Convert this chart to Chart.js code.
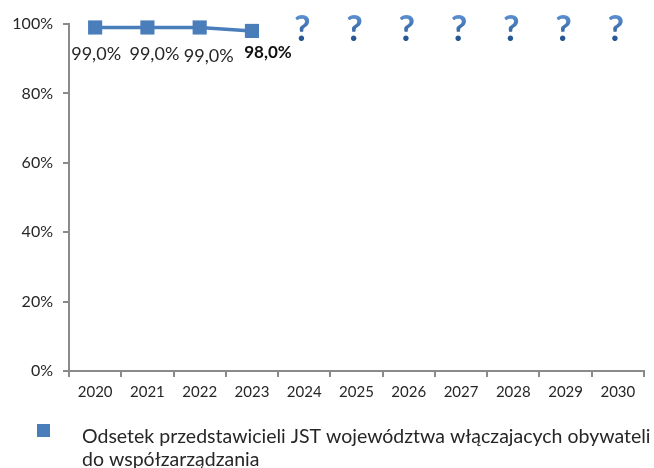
<!DOCTYPE html>
<html>
<head>
<meta charset="utf-8">
<script src="https://cdn.jsdelivr.net/npm/chart.js@4.4.1/dist/chart.umd.min.js"></script>
<style>
  html, body { margin: 0; padding: 0; background: #fff; }
  #wrap { width: 654px; height: 468px; position: relative; }
</style>
</head>
<body>
<div id="wrap"><canvas id="chart"></canvas></div>
<script>
// Share of regional self-government representatives involving citizens in co-governance
const years = ['2020', '2021', '2022', '2023', '2024', '2025', '2026', '2027', '2028', '2029', '2030'];
const shareValues = [99, 99, 99, 98, null, null, null, null, null, null, null];
const yTicks = [0, 20, 40, 60, 80, 100];
const seriesName = 'Odsetek przedstawicieli JST województwa włączajacych obywateli do współzarządzania';

const BLUE = '#4a7ebb';
const AXIS = '#8a8a8a';
const TEXT = '#262626';

Chart.defaults.font.family = 'Lato, "Open Sans", sans-serif';
Chart.defaults.color = TEXT;

const fmt = v => v.toFixed(1).replace('.', ',') + '%';

// value labels under the points, "?" for years without data, custom legend
const extras = {
  id: 'extras',
  afterDatasetsDraw(chart) {
    const ctx = chart.ctx;
    const meta = chart.getDatasetMeta(0);
    const vals = chart.data.datasets[0].data;
    const lastIdx = vals.reduce((a, v, i) => (v != null ? i : a), -1);
    const labelOffsets = [[1, 27], [7, 27], [9, 29], [16, 22]];
    ctx.save();
    ctx.textAlign = 'center';
    ctx.textBaseline = 'middle';
    vals.forEach((v, i) => {
      const pt = meta.data[i];
      if (v == null) {
        const x = chart.scales.x.getPixelForValue(i) - 2;
        const y = chart.chartArea.top + 5;
        const g = ctx.createLinearGradient(0, y - 14, 0, y + 14);
        g.addColorStop(0, '#5b90d2');
        g.addColorStop(1, '#1d4c86');
        ctx.fillStyle = g;
        ctx.font = 'bold 36px Lato, sans-serif';
        ctx.fillText('?', x, y);
        return;
      }
      const off = labelOffsets[i] || [0, 26];
      ctx.fillStyle = i === lastIdx ? '#111' : TEXT;
      ctx.font = (i === lastIdx ? 'bold 17px' : '18px') + ' Lato, sans-serif';
      ctx.fillText(fmt(v), pt.x + off[0], pt.y + off[1]);
    });
    ctx.restore();
  },
  afterDraw(chart) {
    const ctx = chart.ctx;
    const ds = chart.data.datasets[0];
    ctx.save();
    ctx.fillStyle = ds.borderColor;
    ctx.fillRect(37, 424, 13, 13);
    ctx.font = '19.5px Lato, sans-serif';
    ctx.fillStyle = TEXT;
    ctx.textAlign = 'left';
    ctx.textBaseline = 'middle';
    const maxW = 574;
    const lines = [];
    let line = '';
    ds.label.split(' ').forEach(w => {
      const test = line ? line + ' ' + w : w;
      if (ctx.measureText(test).width > maxW && line) {
        lines.push(line);
        line = w;
      } else {
        line = test;
      }
    });
    lines.push(line);
    lines.forEach((l, i) => ctx.fillText(l, 82, 437 + i * 23));
    ctx.restore();
  }
};

new Chart(document.getElementById('chart'), {
  type: 'line',
  data: {
    labels: years,
    datasets: [{
      label: seriesName,
      data: shareValues,
      borderColor: BLUE,
      backgroundColor: BLUE,
      borderWidth: 3.5,
      pointStyle: 'rect',
      pointRadius: 10,
      pointBorderWidth: 0,
      pointBackgroundColor: BLUE,
      clip: false,
      tension: 0
    }]
  },
  options: {
    responsive: true,
    maintainAspectRatio: false,
    animation: false,
    layout: { padding: { top: 24, right: 6, bottom: 67, left: 0 } },
    plugins: {
      legend: { display: false },
      tooltip: { enabled: false }
    },
    scales: {
      x: {
        offset: true,
        grid: { offset: true, drawOnChartArea: false, tickLength: 6, color: AXIS, lineWidth: 2 },
        border: { color: AXIS, width: 2 },
        ticks: { font: { size: 15 }, padding: 6, color: TEXT, maxRotation: 0 },
        afterFit: s => { s.height = 30; }
      },
      y: {
        min: 0,
        max: 100,
        afterBuildTicks: s => { s.ticks = yTicks.map(v => ({ value: v })); },
        grid: { drawOnChartArea: false, tickLength: 6, color: AXIS, lineWidth: 2 },
        border: { color: AXIS, width: 2 },
        ticks: { font: { size: 16 }, padding: 10, color: TEXT, callback: v => v + '%' },
        afterFit: s => { s.width = 69; }
      }
    }
  },
  plugins: [extras]
});
</script>
</body>
</html>
